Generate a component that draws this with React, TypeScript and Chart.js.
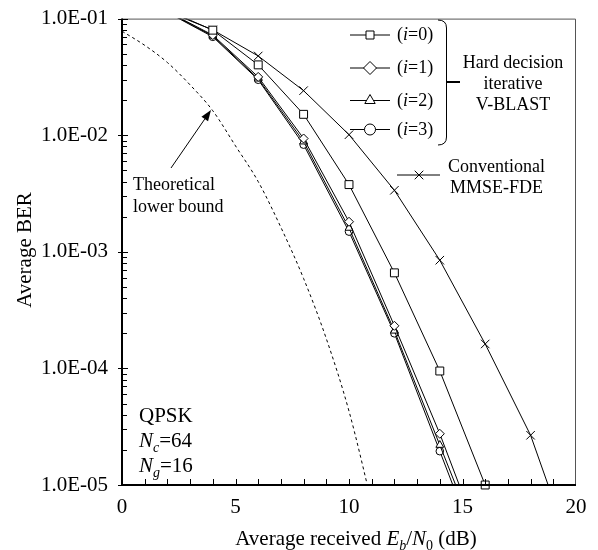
import React, { useEffect, useRef } from 'react';
import { Chart, registerables } from 'chart.js';

Chart.register(...registerables);

const FONT = '"Liberation Serif", "Times New Roman", Times, serif';

// Eb/N0 (dB) sample points of the simulated curves
const snrSim = [0, 2, 4, 6, 8, 10, 12, 14, 16, 18, 20];
// Conventional MMSE-FDE
const berConventional = [0.17, 0.115, 0.08, 0.0478, 0.0241, 0.0101, 0.00337, 8.47e-4, 1.62e-4, 2.67e-5, 2.1e-6];
// Hard decision iterative V-BLAST, i = 0..3
const berIter0 = [0.17, 0.118, 0.0796, 0.0401, 0.0151, 0.00377, 6.6e-4, 9.5e-5, 1.0e-5];
const berIter1 = [0.17, 0.115, 0.0722, 0.0316, 0.00937, 0.00181, 2.32e-4, 2.75e-5, 2.6e-6];
const berIter2 = [0.17, 0.114, 0.071, 0.0305, 0.0088, 0.0016, 2.1e-4, 2.2e-5, 2.3e-6];
const berIter3 = [0.17, 0.113, 0.0698, 0.0299, 0.0083, 0.00149, 2.0e-4, 1.95e-5, 1.9e-6];
// Theoretical lower bound
const snrTheory = [0, 1, 2, 3, 4, 5, 6, 7, 8, 9, 10, 11];
const berTheory = [0.078, 0.059, 0.042, 0.027, 0.0162, 0.0081, 0.004, 0.00162, 5.9e-4, 1.8e-4, 4.3e-5, 7e-6];

const xTickValues = [0, 5, 10, 15, 20];
const xTickLabels = ['0', '5', '10', '15', '20'];
const yTickValues = [1e-5, 1e-4, 1e-3, 1e-2, 1e-1];
const yTickLabels = ['1.0E-05', '1.0E-04', '1.0E-03', '1.0E-02', '1.0E-01'];

const legendLabels = ['0', '1', '2', '3'];

type Part = { t: string; it?: boolean; sub?: boolean };

function partFont(p: Part, size: number) {
  const s = p.sub ? Math.round(size * 0.65) : size;
  return `${p.it ? 'italic ' : ''}${s}px ${FONT}`;
}

function drawRich(ctx: CanvasRenderingContext2D, parts: Part[], x: number, y: number, size: number, align: 'left' | 'center') {
  ctx.textBaseline = 'alphabetic';
  ctx.textAlign = 'left';
  let total = 0;
  const widths = parts.map((p) => {
    ctx.font = partFont(p, size);
    const w = ctx.measureText(p.t).width;
    total += w;
    return w;
  });
  let cx = align === 'center' ? x - total / 2 : x;
  parts.forEach((p, i) => {
    ctx.font = partFont(p, size);
    ctx.fillText(p.t, cx, p.sub ? y + size * 0.22 : y);
    cx += widths[i];
  });
}

function marker(ctx: CanvasRenderingContext2D, kind: string, cx: number, cy: number, r: number) {
  ctx.beginPath();
  if (kind === 'rect') {
    ctx.rect(cx - r, cy - r, 2 * r, 2 * r);
  } else if (kind === 'rectRot') {
    ctx.moveTo(cx, cy - r);
    ctx.lineTo(cx + r, cy);
    ctx.lineTo(cx, cy + r);
    ctx.lineTo(cx - r, cy);
    ctx.closePath();
  } else if (kind === 'triangle') {
    ctx.moveTo(cx, cy - r);
    ctx.lineTo(cx + r * 0.866, cy + r * 0.5);
    ctx.lineTo(cx - r * 0.866, cy + r * 0.5);
    ctx.closePath();
  } else if (kind === 'circle') {
    ctx.arc(cx, cy, r, 0, Math.PI * 2);
  } else if (kind === 'cross') {
    ctx.moveTo(cx - r, cy - r);
    ctx.lineTo(cx + r, cy + r);
    ctx.moveTo(cx + r, cy - r);
    ctx.lineTo(cx - r, cy + r);
    ctx.stroke();
    return;
  }
  ctx.fillStyle = '#fff';
  ctx.fill();
  ctx.stroke();
}

const decor = {
  id: 'decor',
  afterDraw(chart: any) {
    const ctx: CanvasRenderingContext2D = chart.ctx;
    const { left, right, top, bottom } = chart.chartArea;
    const xs = chart.scales.x;
    const ys = chart.scales.y;
    ctx.save();
    // frame (top, right)
    ctx.strokeStyle = '#555';
    ctx.lineWidth = 1;
    ctx.beginPath();
    ctx.moveTo(left, top + 0.5);
    ctx.lineTo(right - 0.5, top + 0.5);
    ctx.lineTo(right - 0.5, bottom);
    ctx.stroke();
    // axes
    ctx.strokeStyle = '#000';
    ctx.lineWidth = 2;
    ctx.beginPath();
    ctx.moveTo(left, top);
    ctx.lineTo(left, bottom);
    ctx.lineTo(right, bottom);
    ctx.stroke();
    // y ticks
    ctx.lineWidth = 1;
    ctx.beginPath();
    for (let d = -5; d <= -1; d++) {
      for (let m = 1; m <= 9; m++) {
        if (d === -1 && m > 1) break;
        const v = m * Math.pow(10, d);
        const py = Math.round(ys.getPixelForValue(v)) + 0.5;
        if (m === 1) {
          ctx.moveTo(left - 4, py);
          ctx.lineTo(left + 6, py);
        } else {
          ctx.moveTo(left, py);
          ctx.lineTo(left + 5, py);
        }
      }
    }
    // x ticks
    for (let v = 1; v < 20; v++) {
      const px = Math.round(xs.getPixelForValue(v)) + 0.5;
      ctx.moveTo(px, bottom);
      ctx.lineTo(px, bottom - 6);
    }
    ctx.stroke();

    ctx.fillStyle = '#000';
    // axis titles
    drawRich(ctx, [
      { t: 'Average received ' },
      { t: 'E', it: true },
      { t: 'b', it: true, sub: true },
      { t: '/' },
      { t: 'N', it: true },
      { t: '0', sub: true },
      { t: ' (dB)' },
    ], 356, 545, 21, 'center');
    ctx.save();
    ctx.translate(31, 250);
    ctx.rotate(-Math.PI / 2);
    ctx.font = `21px ${FONT}`;
    ctx.textAlign = 'center';
    ctx.textBaseline = 'alphabetic';
    ctx.fillText('Average BER', 0, 0);
    ctx.restore();

    // legend for iterative V-BLAST
    const rows = [35, 68, 100.5, 129.5];
    const kinds = ['rect', 'rectRot', 'triangle', 'circle'];
    const sizes = [4, 6.5, 6, 5.5];
    ctx.strokeStyle = '#000';
    ctx.lineWidth = 1;
    rows.forEach((ry, i) => {
      ctx.beginPath();
      ctx.moveTo(350, ry);
      ctx.lineTo(390, ry);
      ctx.stroke();
      marker(ctx, kinds[i], 370, ry, sizes[i]);
      ctx.fillStyle = '#000';
      drawRich(ctx, [{ t: '(' }, { t: 'i', it: true }, { t: '=' + legendLabels[i] + ')' }], 397, ry + 5, 18, 'left');
    });
    // brace
    ctx.beginPath();
    ctx.moveTo(438, 20);
    ctx.quadraticCurveTo(446.5, 20, 446.5, 28);
    ctx.lineTo(446.5, 137);
    ctx.quadraticCurveTo(446.5, 145, 438, 145);
    ctx.stroke();
    ctx.lineWidth = 2;
    ctx.beginPath();
    ctx.moveTo(446.5, 82);
    ctx.lineTo(460, 82);
    ctx.stroke();
    ctx.lineWidth = 1;
    ctx.fillStyle = '#000';
    ctx.font = `18px ${FONT}`;
    ctx.textAlign = 'center';
    ctx.textBaseline = 'alphabetic';
    ctx.fillText('Hard decision', 513, 68);
    ctx.fillText('iterative', 513, 89);
    ctx.fillText('V-BLAST', 513, 110);

    // conventional legend
    ctx.beginPath();
    ctx.moveTo(397, 175);
    ctx.lineTo(440, 175);
    ctx.stroke();
    marker(ctx, 'cross', 419, 175, 4.3);
    ctx.fillStyle = '#000';
    ctx.font = `18px ${FONT}`;
    ctx.textAlign = 'center';
    ctx.fillText('Conventional', 496.5, 172);
    ctx.fillText('MMSE-FDE', 496.5, 193);

    // theoretical annotation
    ctx.textAlign = 'left';
    ctx.fillText('Theoretical', 133, 190);
    ctx.fillText('lower bound', 133, 212);
    const ax0 = 171, ay0 = 168, ax1 = 211, ay1 = 110;
    const ang = Math.atan2(ay1 - ay0, ax1 - ax0);
    const hl = 11, hw = 4;
    const bx = ax1 - hl * Math.cos(ang), by = ay1 - hl * Math.sin(ang);
    ctx.beginPath();
    ctx.moveTo(ax0, ay0);
    ctx.lineTo(bx, by);
    ctx.stroke();
    ctx.beginPath();
    ctx.moveTo(ax1, ay1);
    ctx.lineTo(bx + hw * Math.sin(ang), by - hw * Math.cos(ang));
    ctx.lineTo(bx - hw * Math.sin(ang), by + hw * Math.cos(ang));
    ctx.closePath();
    ctx.fill();

    // parameters
    drawRich(ctx, [{ t: 'QPSK' }], 139, 422, 21, 'left');
    drawRich(ctx, [{ t: 'N', it: true }, { t: 'c', it: true, sub: true }, { t: '=64' }], 139, 447, 21, 'left');
    drawRich(ctx, [{ t: 'N', it: true }, { t: 'g', it: true, sub: true }, { t: '=16' }], 139, 472, 21, 'left');
    ctx.restore();
  },
};

function pts(xs: number[], ys: number[]) {
  return ys.map((y, i) => ({ x: xs[i], y }));
}

export default function App() {
  const ref = useRef<HTMLCanvasElement | null>(null);
  useEffect(() => {
    document.body.style.margin = '0';
    if (!ref.current) return;
    const base = {
      borderColor: '#000',
      borderWidth: 1,
      pointBackgroundColor: '#fff',
      pointBorderColor: '#000',
      pointBorderWidth: 1,
      tension: 0,
      fill: false,
    };
    const chart = new Chart(ref.current, {
      type: 'line',
      data: {
        datasets: [
          { ...base, label: 'i=0', data: pts(snrSim, berIter0), pointStyle: 'rect', pointRadius: 5.6, clip: { left: 0, top: 0, right: 0, bottom: 8 } },
          { ...base, label: 'i=1', data: pts(snrSim, berIter1), pointStyle: 'rectRot', pointRadius: 4.5 },
          { ...base, label: 'i=2', data: pts(snrSim, berIter2), pointStyle: 'triangle', pointRadius: 4.5 },
          { ...base, label: 'i=3', data: pts(snrSim, berIter3), pointStyle: 'circle', pointRadius: 3.8 },
          { ...base, label: 'Conventional MMSE-FDE', data: pts(snrSim, berConventional), pointStyle: 'crossRot', pointRadius: 6 },
          { ...base, label: 'Theoretical lower bound', data: pts(snrTheory, berTheory), pointRadius: 0, borderDash: [3, 3], cubicInterpolationMode: 'monotone' },
        ] as any,
      },
      options: {
        animation: false,
        responsive: false,
        events: [],
        layout: { padding: { top: 15, right: 22, bottom: 0, left: 0 } },
        plugins: { legend: { display: false }, tooltip: { enabled: false } },
        scales: {
          x: {
            type: 'linear',
            min: 0,
            max: 20,
            afterBuildTicks: (s: any) => { s.ticks = xTickValues.map((v) => ({ value: v })); },
            afterFit: (s: any) => { s.height = 65; },
            grid: { display: false },
            border: { display: false },
            ticks: {
              autoSkip: false,
              maxRotation: 0,
              padding: 2,
              color: '#000',
              font: { family: FONT, size: 21 },
              callback: (_v: any, i: number) => xTickLabels[i],
            },
          },
          y: {
            type: 'logarithmic',
            min: 1e-5,
            max: 1e-1,
            afterBuildTicks: (s: any) => { s.ticks = yTickValues.map((v) => ({ value: v })); },
            afterFit: (s: any) => { s.width = 122; },
            grid: { display: false },
            border: { display: false },
            ticks: {
              autoSkip: false,
              padding: 6,
              color: '#000',
              font: { family: FONT, size: 21 },
              callback: (_v: any, i: number) => yTickLabels[i],
            },
          },
        },
      } as any,
      plugins: [decor],
    });
    return () => chart.destroy();
  }, []);
  return (
    <div style={{ width: 598, height: 550 }}>
      <canvas ref={ref} width={598} height={550} style={{ display: 'block' }} />
    </div>
  );
}
